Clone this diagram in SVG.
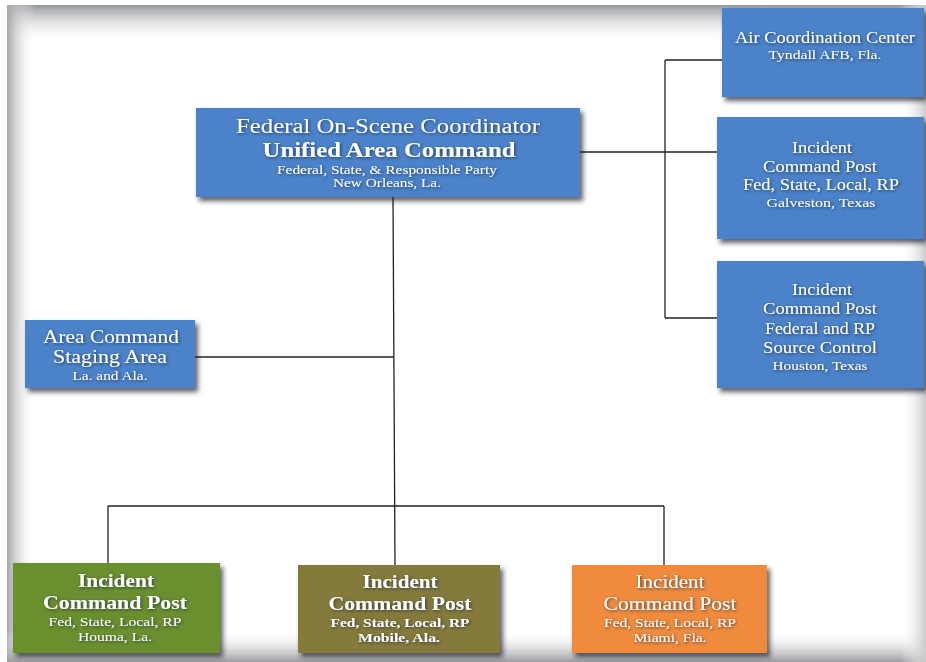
<svg xmlns="http://www.w3.org/2000/svg" width="926" height="662" viewBox="0 0 926 662">
<defs>
<linearGradient id="gTop" x1="0" y1="0" x2="0" y2="1"><stop offset="0" stop-color="#94979a"/><stop offset="1" stop-color="#ffffff" stop-opacity="0"/></linearGradient>
<linearGradient id="gLeft" x1="0" y1="0" x2="1" y2="0"><stop offset="0" stop-color="#a4a6aa"/><stop offset="1" stop-color="#ffffff" stop-opacity="0"/></linearGradient>
<linearGradient id="gBot" x1="0" y1="1" x2="0" y2="0"><stop offset="0" stop-color="#9a9c9f"/><stop offset="1" stop-color="#ffffff" stop-opacity="0"/></linearGradient>
<linearGradient id="gRight" x1="1" y1="0" x2="0" y2="0"><stop offset="0" stop-color="#c8cacc"/><stop offset="1" stop-color="#ffffff" stop-opacity="0"/></linearGradient>
<filter id="sh" x="-10%" y="-10%" width="125%" height="130%"><feDropShadow dx="3" dy="4" stdDeviation="2.5" flood-color="#1a1a2a" flood-opacity="0.7"/></filter>
<filter id="glow" x="-10%" y="-30%" width="120%" height="160%"><feDropShadow dx="1" dy="1" stdDeviation="1.5" flood-color="#1e2a40" flood-opacity="0.8"/></filter>
</defs>
<style>
.blue{fill:#4c82c9;}
.green{fill:#6a8f2d;}
.olive{fill:#847a3b;}
.orange{fill:#f08b3c;}
.box{filter:url(#sh);}
text{font-family:"Liberation Serif","Times New Roman",serif;fill:#ffffff;text-anchor:middle;filter:url(#glow);}
.b{font-weight:bold;}
.conn line{stroke:#222;stroke-width:1.3;}
</style>
<rect x="0" y="0" width="926" height="662" fill="#ffffff"/>
<rect x="7" y="5" width="919" height="38" fill="url(#gTop)"/>
<rect x="7" y="5" width="28" height="657" fill="url(#gLeft)"/>
<rect x="7" y="630" width="919" height="32" fill="url(#gBot)"/>
<rect x="900" y="5" width="26" height="657" fill="url(#gRight)"/>

<g class="conn" id="connectors">
<line x1="393" y1="197" x2="395" y2="565"/>
<line x1="195" y1="357" x2="394" y2="357"/>
<line x1="108" y1="506" x2="664" y2="506"/>
<line x1="108" y1="506" x2="108" y2="563"/>
<line x1="664" y1="506" x2="664" y2="565"/>
<line x1="580" y1="152" x2="717" y2="152"/>
<line x1="665" y1="60" x2="665" y2="318"/>
<line x1="665" y1="60" x2="722" y2="60"/>
<line x1="665" y1="318" x2="717" y2="318"/>
</g>

<g id="unified-area-command">
<rect class="box blue" x="196" y="108" width="384" height="89"/>
<text x="388" y="133" font-size="20" textLength="304" lengthAdjust="spacingAndGlyphs">Federal On-Scene Coordinator</text>
<text x="389" y="157" font-size="22" class="b" textLength="253" lengthAdjust="spacingAndGlyphs">Unified Area Command</text>
<text x="387" y="174" font-size="12" textLength="220" lengthAdjust="spacingAndGlyphs">Federal, State, &amp; Responsible Party</text>
<text x="387" y="187" font-size="12" textLength="108" lengthAdjust="spacingAndGlyphs">New Orleans, La.</text>
</g>

<g id="air-coordination-center">
<rect class="box blue" x="722" y="8" width="202" height="89"/>
<text x="825" y="43" font-size="16" textLength="180" lengthAdjust="spacingAndGlyphs">Air Coordination Center</text>
<text x="825" y="59" font-size="12" textLength="113" lengthAdjust="spacingAndGlyphs">Tyndall AFB, Fla.</text>
</g>

<g id="icp-galveston">
<rect class="box blue" x="717" y="117" width="207" height="122"/>
<text x="822" y="153" font-size="16" textLength="60" lengthAdjust="spacingAndGlyphs">Incident</text>
<text x="820" y="172" font-size="16" textLength="114" lengthAdjust="spacingAndGlyphs">Command Post</text>
<text x="821" y="190" font-size="16" textLength="156" lengthAdjust="spacingAndGlyphs">Fed, State, Local, RP</text>
<text x="821" y="207" font-size="12" textLength="109" lengthAdjust="spacingAndGlyphs">Galveston, Texas</text>
</g>

<g id="icp-houston">
<rect class="box blue" x="717" y="261" width="207" height="127"/>
<text x="822" y="295" font-size="16" textLength="60" lengthAdjust="spacingAndGlyphs">Incident</text>
<text x="820" y="314" font-size="16" textLength="114" lengthAdjust="spacingAndGlyphs">Command Post</text>
<text x="820" y="334" font-size="16" textLength="110" lengthAdjust="spacingAndGlyphs">Federal and RP</text>
<text x="820" y="353" font-size="16" textLength="114" lengthAdjust="spacingAndGlyphs">Source Control</text>
<text x="820" y="370" font-size="12" textLength="95" lengthAdjust="spacingAndGlyphs">Houston, Texas</text>
</g>

<g id="area-command-staging">
<rect class="box blue" x="25" y="320" width="170" height="68"/>
<text x="111" y="343" font-size="18" textLength="136" lengthAdjust="spacingAndGlyphs">Area Command</text>
<text x="110" y="363" font-size="18" textLength="114" lengthAdjust="spacingAndGlyphs">Staging Area</text>
<text x="110" y="380" font-size="12" textLength="75" lengthAdjust="spacingAndGlyphs">La. and Ala.</text>
</g>

<g id="icp-houma">
<rect class="box green" x="13" y="563" width="207" height="90"/>
<text x="116" y="587" font-size="18" class="b" textLength="76" lengthAdjust="spacingAndGlyphs">Incident</text>
<text x="115" y="609" font-size="18" class="b" textLength="144" lengthAdjust="spacingAndGlyphs">Command Post</text>
<text x="115" y="626" font-size="13" textLength="133" lengthAdjust="spacingAndGlyphs">Fed, State, Local, RP</text>
<text x="115" y="641" font-size="13" textLength="74" lengthAdjust="spacingAndGlyphs">Houma, La.</text>
</g>

<g id="icp-mobile">
<rect class="box olive" x="298" y="565" width="202" height="88"/>
<text x="400" y="588" font-size="18" class="b" textLength="75" lengthAdjust="spacingAndGlyphs">Incident</text>
<text x="400" y="610" font-size="18" class="b" textLength="143" lengthAdjust="spacingAndGlyphs">Command Post</text>
<text x="400" y="627" font-size="13" class="b" textLength="139" lengthAdjust="spacingAndGlyphs">Fed, State, Local, RP</text>
<text x="399" y="642" font-size="13" class="b" textLength="82" lengthAdjust="spacingAndGlyphs">Mobile, Ala.</text>
</g>

<g id="icp-miami">
<rect class="box orange" x="572" y="565" width="195" height="88"/>
<text x="670" y="588" font-size="18" textLength="69" lengthAdjust="spacingAndGlyphs">Incident</text>
<text x="670" y="610" font-size="18" textLength="133" lengthAdjust="spacingAndGlyphs">Command Post</text>
<text x="670" y="627" font-size="13" textLength="132" lengthAdjust="spacingAndGlyphs">Fed, State, Local, RP</text>
<text x="670" y="642" font-size="13" textLength="73" lengthAdjust="spacingAndGlyphs">Miami, Fla.</text>
</g>
</svg>
